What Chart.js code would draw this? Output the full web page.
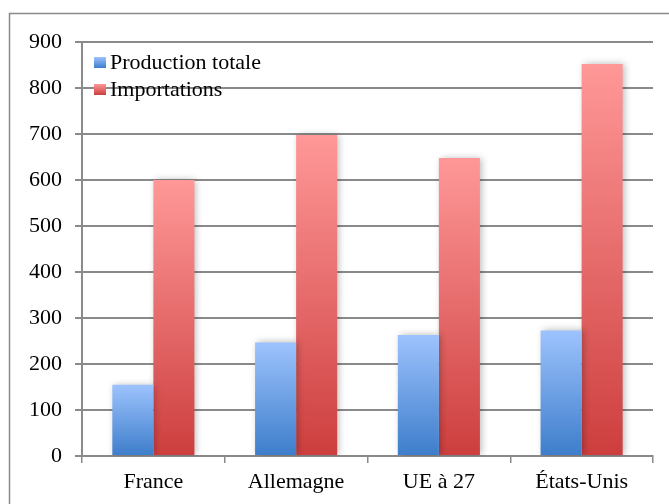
<!DOCTYPE html>
<html><head><meta charset="utf-8">
<script src="https://cdn.jsdelivr.net/npm/chart.js@4/dist/chart.umd.min.js"></script>
<style>html,body{margin:0;padding:0;background:#fff}#wrap{width:669px;height:504px}</style>
</head><body><div id="wrap"><canvas id="c" width="669" height="504"></canvas></div>
<script>
const categories = ['France', 'Allemagne', 'UE à 27', 'États-Unis'];
const production = [155, 247, 263, 273];
const importations = [600, 698, 648, 852];
const seriesNames = ['Production totale', 'Importations'];
const yTicks = [0, 100, 200, 300, 400, 500, 600, 700, 800, 900];

const FONT = "'Liberation Serif', serif";
const FSIZE = 22;
const palettes = [['#9dc3fd', '#3d7dcb'], ['#ff9898', '#cd3e3e']];

function barGradient(ctx, pi) {
  const chart = ctx.chart;
  const y = chart.scales && chart.scales.y;
  if (!y || !chart.chartArea || ctx.type !== 'data') return palettes[pi][1];
  const top = y.getPixelForValue(ctx.raw);
  const bot = y.getPixelForValue(0);
  if (!isFinite(top) || !isFinite(bot) || top === bot) return palettes[pi][1];
  const g = chart.ctx.createLinearGradient(0, top, 0, bot);
  g.addColorStop(0, palettes[pi][0]);
  g.addColorStop(1, palettes[pi][1]);
  return g;
}

const framePlugin = {
  id: 'frame',
  beforeDraw(chart) {
    const c = chart.ctx;
    c.save();
    c.strokeStyle = '#8a8a8a';
    c.lineWidth = 1.5;
    c.beginPath();
    c.moveTo(9.5, 520); c.lineTo(9.5, 13.5); c.lineTo(680, 13.5);
    c.stroke();
    c.restore();
  }
};
const shadowPlugin = {
  id: 'shadow',
  beforeDatasetsDraw(chart) {
    const c = chart.ctx; c.save();
    c.shadowColor = 'rgba(0,0,0,0.28)'; c.shadowBlur = 7; c.shadowOffsetX = 2; c.shadowOffsetY = 0;
  },
  afterDatasetsDraw(chart) { chart.ctx.restore(); }
};
const legendPlugin = {
  id: 'innerLegend',
  afterDatasetsDraw(chart) {
    const c = chart.ctx; const a = chart.chartArea;
    c.save();
    c.font = FSIZE + 'px ' + FONT; c.textBaseline = 'middle'; c.fillStyle = '#000';
    chart.data.datasets.forEach((ds, i) => {
      const yc = a.top + 20 + i * 27;
      const x0 = a.left + 12;
      const g = c.createLinearGradient(0, yc - 5, 0, yc + 6);
      g.addColorStop(0, palettes[i][0]); g.addColorStop(1, palettes[i][1]);
      c.fillStyle = g; c.fillRect(x0, yc - 5, 12, 11);
      c.fillStyle = '#000';
      c.fillText(ds.label, x0 + 16, yc + 1);
    });
    c.restore();
  }
};

new Chart(document.getElementById('c'), {
  type: 'bar',
  data: {
    labels: categories,
    datasets: [
      { label: seriesNames[0], data: production, backgroundColor: (ctx) => barGradient(ctx, 0) },
      { label: seriesNames[1], data: importations, backgroundColor: (ctx) => barGradient(ctx, 1) }
    ]
  },
  options: {
    responsive: false, animation: false,
    devicePixelRatio: 1,
    layout: { padding: { left: 0, right: 16, top: 42, bottom: 0 } },
    plugins: { legend: { display: false }, tooltip: { enabled: false } },
    datasets: { bar: { categoryPercentage: 0.575, barPercentage: 1.0, borderWidth: 0 } },
    scales: {
      x: {
        grid: { display: true, drawOnChartArea: false, drawTicks: true, tickLength: 7, color: '#8a8a8a', lineWidth: 1.5, offset: true },
        border: { display: true, color: '#8a8a8a', width: 2 },
        ticks: { color: '#000', font: { family: FONT, size: FSIZE }, padding: 6, maxRotation: 0 },
        afterFit(s) { s.height = 48; }
      },
      y: {
        min: 0, max: 900,
        afterBuildTicks(s) { s.ticks = yTicks.map(v => ({ value: v })); },
        grid: { color: '#8a8a8a', lineWidth: 2, tickLength: 7, drawTicks: true },
        border: { display: true, color: '#8a8a8a', width: 2 },
        ticks: { color: '#000', font: { family: FONT, size: FSIZE }, padding: 13 },
        afterFit(s) { s.width = 82; }
      }
    }
  },
  plugins: [framePlugin, shadowPlugin, legendPlugin]
});
</script></body></html>
